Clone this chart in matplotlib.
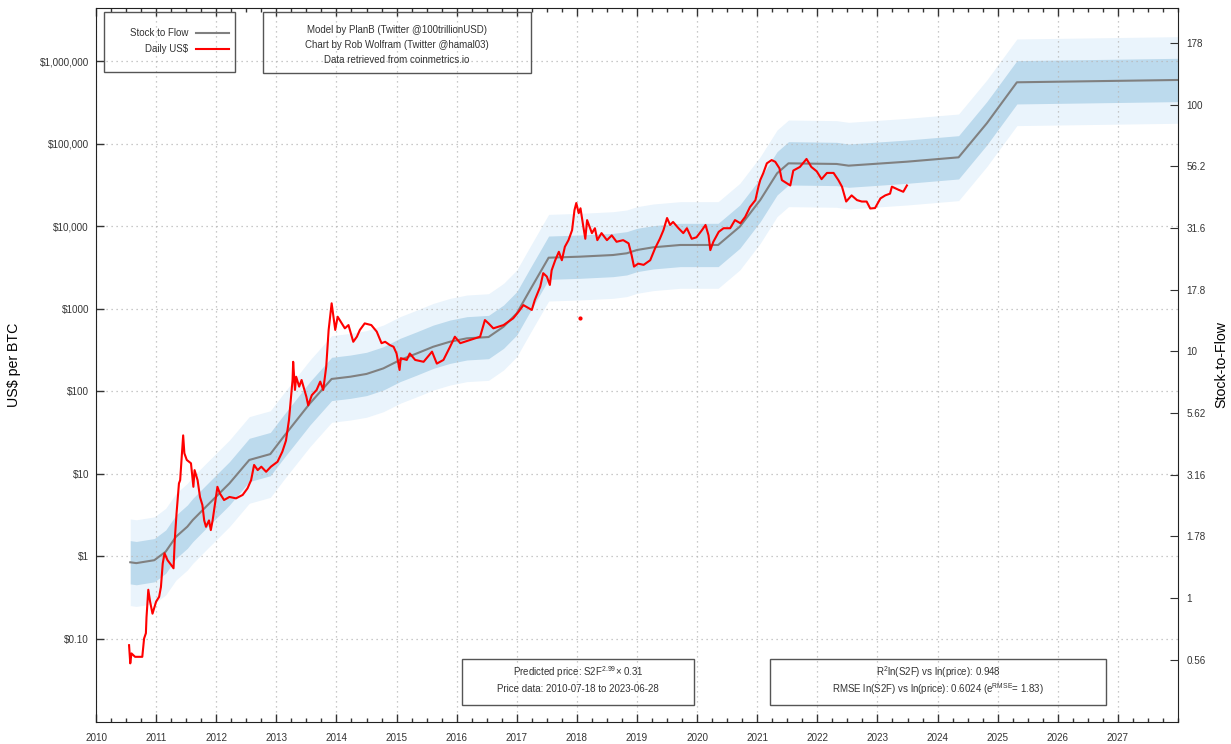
import numpy as np
import matplotlib
matplotlib.use("Agg")
import matplotlib.pyplot as plt
from matplotlib.patches import Rectangle
from matplotlib.ticker import FixedLocator, FixedFormatter, AutoMinorLocator, NullLocator

plt.rcParams['font.family'] = ['Liberation Sans', 'DejaVu Sans']
plt.rcParams['mathtext.default'] = 'regular'

# model parameters (from the chart annotations)
S2F_EXP = 2.99
S2F_MUL = 0.31
EXP_RMSE = 1.83

# stock-to-flow model price (US$)
model_years = [2010.57, 2010.67, 2010.97, 2011.16, 2011.33, 2011.52, 2011.61, 2011.83,
               2012.22, 2012.55, 2012.90, 2013.12, 2013.56, 2013.92, 2014.23, 2014.50,
               2014.78, 2015.06, 2015.34, 2015.61, 2015.89, 2016.17, 2016.53, 2016.78,
               2017.00, 2017.22, 2017.53, 2018.05, 2018.60, 2018.83, 2019.00, 2019.27,
               2019.72, 2020.35, 2020.71, 2021.05, 2021.33, 2021.52, 2022.32, 2022.52,
               2023.49, 2024.35, 2024.82, 2025.32, 2028.00]
model_usd = [0.84, 0.82, 0.89, 1.13, 1.71, 2.27, 2.73, 3.96,
             7.6, 14.6, 17.2, 27.9, 71, 140, 149, 161,
             188, 238, 286, 344, 396, 435, 451, 602,
             874, 1675, 4130, 4250, 4450, 4670, 5120, 5520,
             5890, 5890, 9820, 20650, 43500, 57500, 56500, 53900,
             60200, 68000, 176000, 552000, 589000]

# daily price (US$)
price_years = [2010.55, 2010.57, 2010.59, 2010.65, 2010.77, 2010.80, 2010.83, 2010.84,
               2010.87, 2010.90, 2010.94, 2011.00, 2011.05, 2011.08, 2011.11, 2011.14,
               2011.19, 2011.25, 2011.29, 2011.31, 2011.34, 2011.38, 2011.40, 2011.45,
               2011.47, 2011.51, 2011.58, 2011.62, 2011.64, 2011.69, 2011.73, 2011.77,
               2011.80, 2011.83, 2011.88, 2011.91, 2011.94, 2012.02, 2012.06, 2012.13,
               2012.22, 2012.33, 2012.44, 2012.52, 2012.58, 2012.63, 2012.69, 2012.75,
               2012.83, 2012.91, 2013.02, 2013.10, 2013.16, 2013.21, 2013.24, 2013.27,
               2013.28, 2013.31, 2013.33, 2013.38, 2013.42, 2013.50, 2013.53, 2013.59,
               2013.67, 2013.73, 2013.78, 2013.83, 2013.87, 2013.92, 2013.98, 2014.02,
               2014.07, 2014.14, 2014.20, 2014.28, 2014.34, 2014.39, 2014.47, 2014.58,
               2014.67, 2014.75, 2014.81, 2014.89, 2014.95, 2015.00, 2015.05, 2015.07,
               2015.17, 2015.22, 2015.31, 2015.45, 2015.59, 2015.67, 2015.78, 2015.89,
               2015.97, 2016.06, 2016.22, 2016.39, 2016.47, 2016.53, 2016.61, 2016.78,
               2016.94, 2017.03, 2017.11, 2017.25, 2017.30, 2017.39, 2017.44, 2017.50,
               2017.55, 2017.58, 2017.64, 2017.70, 2017.75, 2017.80, 2017.86, 2017.92,
               2017.96, 2017.99, 2018.03, 2018.06, 2018.10, 2018.14, 2018.17, 2018.25,
               2018.30, 2018.34, 2018.41, 2018.50, 2018.58, 2018.66, 2018.77, 2018.86,
               2018.91, 2018.95, 2019.02, 2019.11, 2019.22, 2019.30, 2019.38, 2019.44,
               2019.50, 2019.55, 2019.60, 2019.69, 2019.77, 2019.83, 2019.91, 2019.99,
               2020.08, 2020.14, 2020.19, 2020.22, 2020.27, 2020.36, 2020.44, 2020.55,
               2020.63, 2020.72, 2020.80, 2020.88, 2020.97, 2021.02, 2021.05, 2021.10,
               2021.16, 2021.24, 2021.30, 2021.37, 2021.41, 2021.49, 2021.55, 2021.60,
               2021.71, 2021.82, 2021.90, 2021.99, 2022.07, 2022.16, 2022.27, 2022.35,
               2022.41, 2022.48, 2022.57, 2022.66, 2022.74, 2022.82, 2022.88, 2022.96,
               2023.05, 2023.13, 2023.21, 2023.24, 2023.35, 2023.43, 2023.49]
price_usd = [0.083, 0.05, 0.066, 0.06, 0.06, 0.10, 0.116, 0.18,
             0.39, 0.28, 0.20, 0.28, 0.32, 0.42, 0.81, 1.08,
             0.89, 0.78, 0.71, 1.56, 3.3, 7.6, 8.3, 29,
             17.6, 14.6, 13.3, 6.9, 11, 8.3, 5.2, 4.15,
             2.7, 2.26, 2.7, 2.06, 2.7, 6.9, 5.75, 4.77,
             5.2, 5.0, 5.5, 6.6, 8.3, 12.7, 11, 12.1,
             10.5, 12.1, 13.9, 18.4, 25, 44.5, 78, 136,
             226, 103, 149, 113, 136, 85, 67, 89,
             103, 130, 103, 197, 550, 1156, 550, 795,
             695, 575, 630, 395, 455, 550, 660, 630,
             525, 380, 395, 360, 344, 285, 180, 250,
             238, 285, 238, 226, 300, 215, 238, 344,
             455, 380, 415, 455, 725, 660, 575, 630,
             760, 915, 1100, 960, 1270, 1840, 2680, 2440,
             1930, 2900, 3850, 4870, 3850, 5600, 6740, 8900,
             15600, 19000, 14300, 16400, 10600, 7000, 11800, 8200,
             9400, 6740, 8200, 6740, 7700, 6440, 6740, 6160,
             4450, 3220, 3500, 3380, 3850, 5350, 7000, 8900,
             12500, 10300, 11200, 9400, 8200, 9400, 7000, 7300,
             8900, 10300, 7700, 5100, 6440, 8500, 9400, 9400,
             11800, 10800, 12900, 17000, 20600, 30000, 36000, 43600,
             57500, 63000, 60000, 50000, 36000, 33000, 31000, 47000,
             52000, 65000, 52000, 46000, 37000, 44000, 44000, 36000,
             30000, 19800, 23500, 20600, 19800, 19800, 16300, 16500,
             21600, 23500, 24700, 30000, 27500, 26000, 31000]

# stray data point early 2018
outlier_year = [2018.05]
outlier_usd = [770]

usd_ticks = [0.1, 1, 10, 100, 1000, 1e4, 1e5, 1e6]
usd_labels = ['$0.10', '$1', '$10', '$100', '$1000', '$10,000', '$100,000', '$1,000,000']
s2f_ticks = [10 ** (k / 4) for k in range(-1, 10)]
s2f_labels = ['0.56', '1', '1.78', '3.16', '5.62', '10', '17.8', '31.6', '56.2', '100', '178']
years = list(range(2010, 2028))

model = np.array(model_usd)

fig = plt.figure(figsize=(12.31, 7.44), dpi=100)
ax = fig.add_axes([96 / 1231, 1 - 722 / 744, 1082 / 1231, 714 / 744])

ax.fill_between(model_years, model / EXP_RMSE ** 2, model * EXP_RMSE ** 2,
                color='#eaf4fc', lw=0)
ax.fill_between(model_years, model / EXP_RMSE, model * EXP_RMSE,
                color='#bcdaed', lw=0)
ax.plot(model_years, model, color='#808080', lw=1.5)
ax.plot(price_years, price_usd, color='#ff0000', lw=1.5)
ax.plot(outlier_year, outlier_usd, 'o', color='#ff0000', ms=2)

ax.set_yscale('log')
ylo, yhi = 0.00973, 4.39e6
ax.set_ylim(ylo, yhi)
ax.set_xlim(2010, 2028)

ax.yaxis.set_major_locator(FixedLocator(usd_ticks))
ax.yaxis.set_major_formatter(FixedFormatter(usd_labels))
ax.yaxis.set_minor_locator(NullLocator())
ax.set_xticks(years)
ax.set_xticklabels([str(y) for y in years])
ax.xaxis.set_minor_locator(AutoMinorLocator(4))

ax.tick_params(which='both', direction='in', top=True, right=True,
               labelsize=7.1, colors='#333333', width=1)
ax.tick_params(which='major', length=6)
ax.tick_params(which='minor', length=3)
ax.tick_params(axis='x', pad=8)
ax.tick_params(axis='y', pad=5)
for s in ax.spines.values():
    s.set_color('#222222')

ax.grid(True, which='major', ls=(0, (1, 3)), color='#b8b8b8', lw=0.9)
ax.set_axisbelow('line')
ax.set_ylabel('US$ per BTC', fontsize=10.2)
ax.yaxis.set_label_coords(-0.0693, 0.5)

ax2 = ax.twinx()
ax2.set_yscale('log')
ax2.set_ylim((ylo / S2F_MUL) ** (1 / S2F_EXP), (yhi / S2F_MUL) ** (1 / S2F_EXP))
ax2.yaxis.set_major_locator(FixedLocator(s2f_ticks))
ax2.yaxis.set_major_formatter(FixedFormatter(s2f_labels))
ax2.yaxis.set_minor_locator(NullLocator())
ax2.tick_params(direction='in', length=6, labelsize=7.1, colors='#333333', pad=6)
ax2.set_ylabel('Stock-to-Flow', fontsize=10.2)
ax2.yaxis.set_label_coords(1.0335, 0.5)
for s in ax2.spines.values():
    s.set_visible(False)

tr = ax.transAxes
box_kw = dict(transform=tr, fill=False, ec='#555555', lw=1, zorder=5)
txt_kw = dict(transform=tr, fontsize=7, color='#333333', zorder=6)

# legend (gnuplot style: text then sample line)
ax.add_patch(Rectangle((0.0074, 0.910), 0.1211, 0.0844, fc='white', **box_kw))
ax.text(0.085, 0.965, 'Stock to Flow', ha='right', va='center', **txt_kw)
ax.text(0.085, 0.9426, 'Daily US$', ha='right', va='center', **txt_kw)
ax.plot([0.0924, 0.1229], [0.965, 0.965], color='#808080', lw=1.5, transform=tr, zorder=6)
ax.plot([0.0924, 0.1229], [0.9426, 0.9426], color='#ff0000', lw=1.5, transform=tr, zorder=6)

# credits box
ax.add_patch(Rectangle((0.1543, 0.909), 0.2477, 0.0854, fc='white', **box_kw))
ax.text(0.278, 0.9692, 'Model by PlanB (Twitter @100trillionUSD)', ha='center', va='center', **txt_kw)
ax.text(0.278, 0.9482, 'Chart by Rob Wolfram (Twitter @hamal03)', ha='center', va='center', **txt_kw)
ax.text(0.278, 0.9272, 'Data retrieved from coinmetrics.io', ha='center', va='center', **txt_kw)

# model formula box
ax.add_patch(Rectangle((0.3383, 0.0238), 0.2144, 0.0644, fc='white', **box_kw))
ax.text(0.4455, 0.070, 'Predicted price: S2F$^{2.99}$× 0.31', ha='center', va='center', **txt_kw)
ax.text(0.4455, 0.0462, 'Price data: 2010-07-18 to 2023-06-28', ha='center', va='center', **txt_kw)

# fit statistics box
ax.add_patch(Rectangle((0.6229, 0.0238), 0.3106, 0.0644, fc='white', **box_kw))
ax.text(0.7782, 0.070, 'R$^2$ln(S2F) vs ln(price): 0.948', ha='center', va='center', **txt_kw)
ax.text(0.7782, 0.0462, 'RMSE ln(S2F) vs ln(price): 0.6024 (e$^{RMSE}$= 1.83)',
        ha='center', va='center', **txt_kw)

fig.savefig('out.png', dpi=100)
